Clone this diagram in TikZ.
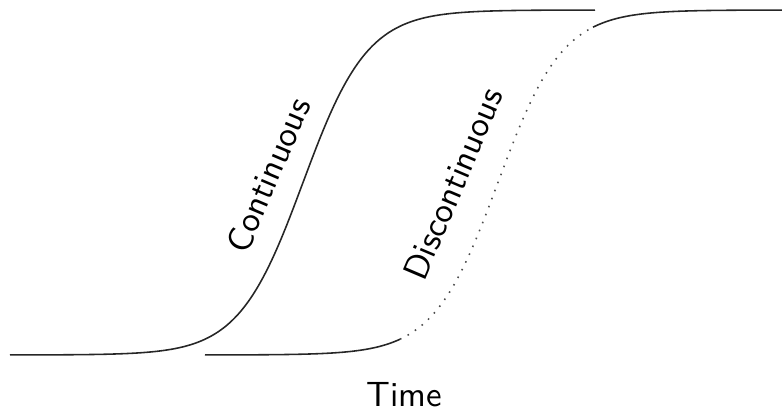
\documentclass[tikz,border=0pt]{standalone}
\begin{document}
\begin{tikzpicture}[x=0.2857pt,y=-0.2857pt,
  curve/.style={line width=0.45pt, black!85},
  gap/.style={line width=0.45pt, dotted, black!70},
  lbl/.style={font=\sffamily, inner sep=0pt}]
\useasboundingbox (0,0) rectangle (782,412);
% continuous curve
\draw[curve] plot[domain=10:595, samples=160, smooth]
  (\x, {355-345*(0.5+0.5*tanh(0.0155*(\x-303)))});
% discontinuous curve
\draw[curve] plot[domain=205:400, samples=60, smooth]
  (\x, {355-345*(0.5+0.5*tanh(0.0155*(\x-498)))});
\draw[gap] plot[domain=400:593, samples=80, smooth]
  (\x, {355-345*(0.5+0.5*tanh(0.0155*(\x-498)))});
\draw[curve] plot[domain=593:782, samples=60, smooth]
  (\x, {355-345*(0.5+0.5*tanh(0.0155*(\x-498)))});
\node[lbl, rotate=67] (cont) at (268,175) {Continuous};
\node[lbl, rotate=67] (disc) at (453,184) {Discontinuous};
\node[lbl, anchor=base] (time) at (404,407) {Time};
\end{tikzpicture}
\end{document}
